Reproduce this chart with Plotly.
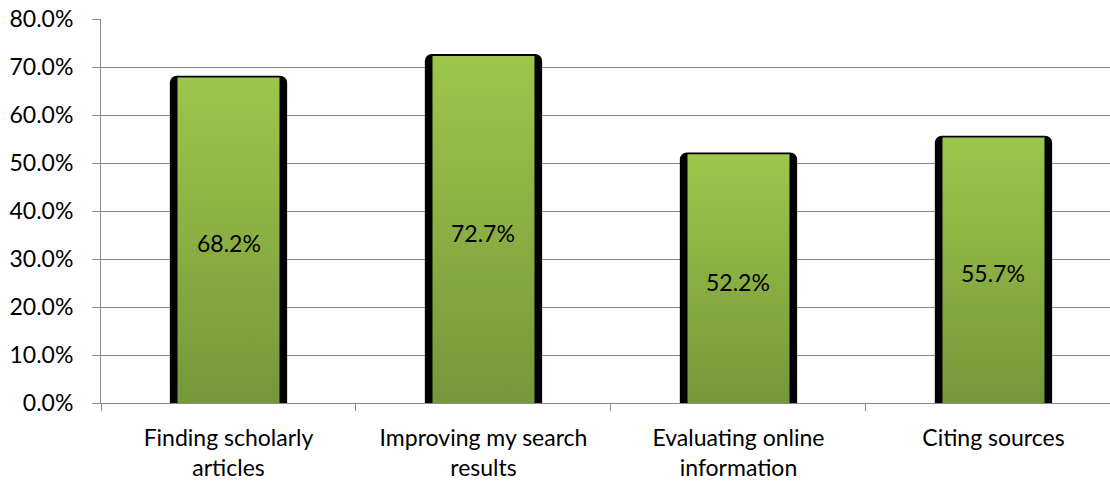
import plotly.graph_objects as go

categories = ["Finding scholarly<br>articles", "Improving my search<br>results",
              "Evaluating online<br>information", "Citing sources"]
values = [68.2, 72.7, 52.2, 55.7]
value_labels = ["68.2%", "72.7%", "52.2%", "55.7%"]
y_ticks = [0, 10, 20, 30, 40, 50, 60, 70, 80]

FONT = "Lato"
FS = 23
GRID = "#8a8a8a"
X_RANGE = [-0.5, 3.457]
OUTER_W = 0.46
INNER_W = 0.40

fig = go.Figure()

# black frame bars (shadow-like edge)
fig.add_trace(go.Bar(
    x=categories, y=values, width=OUTER_W,
    marker=dict(color="black", cornerradius=7, line=dict(width=0)),
    hoverinfo="skip", showlegend=False,
))

# gradient green fill, drawn on an overlaid numeric axis
for i, v in enumerate(values):
    x0, x1 = i - INNER_W / 2, i + INNER_W / 2
    top = v - 0.4
    fig.add_trace(go.Scatter(
        x=[x0, x0, x1, x1, x0], y=[0, top, top, 0, 0],
        xaxis="x2", mode="lines", line=dict(width=0),
        fill="toself",
        fillgradient=dict(type="vertical",
                          colorscale=[[0, "#76973a"], [1, "#9dc64b"]]),
        hoverinfo="skip", showlegend=False,
    ))

# value labels
for i, (v, lab) in enumerate(zip(values, value_labels)):
    fig.add_annotation(
        x=i, y=v / 2, xref="x2", yref="y", text=lab, showarrow=False,
        yshift=-4, font=dict(family=FONT, size=FS, color="black"),
    )

fig.update_layout(
    width=1110, height=485,
    margin=dict(l=101, r=0, t=19, b=82),
    paper_bgcolor="white", plot_bgcolor="white",
    font=dict(family=FONT, size=FS, color="black"),
    barmode="overlay",
    xaxis=dict(
        type="category", range=X_RANGE, tickson="boundaries",
        ticks="outside", ticklen=7, tickcolor=GRID, tickwidth=1,
        showgrid=False, showline=True, linecolor=GRID, linewidth=1,
        tickfont=dict(family=FONT, size=FS, color="black"),
        ticklabelstandoff=14,
        automargin=False,
    ),
    xaxis2=dict(overlaying="x", range=X_RANGE, visible=False, fixedrange=True),
    yaxis=dict(
        range=[0, 80], tickvals=y_ticks, ticktext=[f"{t:.1f}%" for t in y_ticks],
        ticks="outside", ticklen=8, tickcolor=GRID, tickwidth=1,
        showgrid=True, gridcolor=GRID, gridwidth=1,
        showline=True, linecolor=GRID, linewidth=1,
        zeroline=False, automargin=False,
        ticklabelstandoff=14,
        tickfont=dict(family=FONT, size=FS, color="black"),
    ),
)

fig.write_html("out.html",
               config={"displayModeBar": False},
               post_script="document.body.style.margin='0';document.body.style.padding='0';")
